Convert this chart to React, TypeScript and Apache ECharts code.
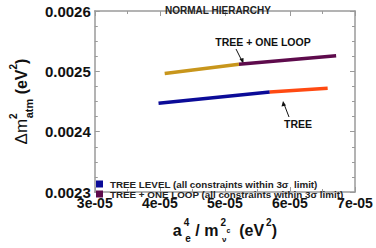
import React, { useEffect, useRef } from "react";
import * as echarts from "echarts";

const treeLevelX = [3.98e-5, 5.69e-5];
const treeLevelY = [0.002447, 0.0024657];
const treeOtherX = [5.69e-5, 6.58e-5];
const treeOtherY = [0.0024657, 0.002472];
const loopGoldX = [4.075e-5, 5.216e-5];
const loopGoldY = [0.0024965, 0.0025118];
const loopPurpleX = [5.216e-5, 6.71e-5];
const loopPurpleY = [0.0025118, 0.0025257];

const legendNames = [
  "TREE LEVEL (all constraints within 3σ  limit)",
  "TREE + ONE LOOP (all constraints within 3σ limit)",
];

const FONT = "Liberation Sans, Arial, Helvetica, sans-serif";

function pts(xs: number[], ys: number[]) {
  return xs.map((x, i) => [x, ys[i]]);
}

function fmtX(v: number) {
  const s = v.toExponential(0);
  const m = s.match(/^(-?\d)e([+-])(\d+)$/);
  if (!m) return s;
  return m[1] + "e" + m[2] + m[3].padStart(2, "0");
}

export default function App() {
  const ref = useRef<HTMLDivElement>(null);
  useEffect(() => {
    if (!ref.current) return;
    const chart = echarts.init(ref.current, undefined, { renderer: "svg" });
    const gray = "#9a9a9a";
    const axisCommon = {
      axisLine: { show: true, lineStyle: { color: gray, width: 1.5 } },
      axisTick: { show: true, inside: true, length: 5, lineStyle: { color: gray } },
      splitLine: { show: false },
    };
    const legendCommon = {
      orient: "vertical",
      left: 96,
      icon: "rect",
      itemWidth: 7,
      itemHeight: 7,
      itemGap: 0,
      padding: 0,
      textStyle: {
        fontFamily: FONT,
        fontSize: 9.8,
        fontWeight: "bold",
        color: "#222",
        lineHeight: 10,
        padding: [0, 0, 0, 2],
      },
    };
    chart.setOption({
      animation: false,
      backgroundColor: "#fff",
      title: {
        text: "NORMAL HIERARCHY",
        left: 213,
        top: 0,
        textAlign: "center",
        textStyle: { fontFamily: FONT, fontSize: 10, fontWeight: "bold", color: "#222" },
      },
      grid: { left: 77, right: 21, top: 11, bottom: 42, containLabel: false },
      legend: [
        { ...legendCommon, data: [legendNames[0]], top: 179 },
        { ...legendCommon, data: [legendNames[1]], top: 189 },
      ],
      xAxis: [
        {
          type: "value",
          min: 3e-5,
          max: 7e-5,
          interval: 1e-5,
          ...axisCommon,
          minorTick: { show: true, splitNumber: 2, length: 3, lineStyle: { color: gray } },
          axisLabel: {
            formatter: (v: number) => fmtX(v),
            fontFamily: FONT,
            fontSize: 14,
            fontWeight: "bold",
            color: "#111",
            margin: 4,
          },
          name: "{b|a}{sup|4}{sub|e}{b| / m}{sup|2}{sub2|ν}{sup2|c}{b|  (eV}{sup|2}{b|)}",
          nameLocation: "middle",
          nameGap: 25,
          nameTextStyle: {
            fontFamily: FONT,
            fontSize: 16,
            fontWeight: "bold",
            color: "#111",
            rich: {
              b: { fontFamily: FONT, fontSize: 16, fontWeight: "bold", color: "#111", lineHeight: 26, verticalAlign: "middle" },
              sup: { fontFamily: FONT, fontSize: 10, fontWeight: "bold", color: "#111", lineHeight: 26, verticalAlign: "top", padding: [0, 0, 0, 2] },
              sub: { fontFamily: FONT, fontSize: 10, fontWeight: "bold", color: "#111", lineHeight: 26, verticalAlign: "bottom", padding: [0, 0, 0, -4] },
              sub2: { fontFamily: FONT, fontSize: 8, color: "#111", lineHeight: 24, verticalAlign: "bottom", padding: [0, 0, 0, -4] },
              sup2: { fontFamily: FONT, fontSize: 7, color: "#111", lineHeight: 26, verticalAlign: "middle" },
            },
          },
        },
        {
          type: "value",
          position: "top",
          min: 3e-5,
          max: 7e-5,
          interval: 1e-5,
          ...axisCommon,
          minorTick: { show: true, splitNumber: 2, length: 3, lineStyle: { color: gray } },
          axisLabel: { show: false },
        },
      ],
      yAxis: [
        {
          type: "value",
          min: 0.0023,
          max: 0.0026,
          interval: 0.0001,
          ...axisCommon,
          minorTick: { show: true, splitNumber: 4, length: 3, lineStyle: { color: gray } },
          axisLabel: {
            formatter: (v: number) => v.toFixed(4),
            fontFamily: FONT,
            fontSize: 15,
            fontWeight: "bold",
            color: "#111",
            margin: 4,
          },
          name: "{r|Δm}{sup|2}{sub|atm}{b| (eV}{sup|2}{b|)}",
          nameLocation: "middle",
          nameGap: 56,
          nameRotate: 90,
          nameTextStyle: {
            fontFamily: FONT,
            fontSize: 16,
            color: "#111",
            rich: {
              r: { fontFamily: FONT, fontSize: 17, color: "#111", lineHeight: 26, verticalAlign: "middle" },
              b: { fontFamily: FONT, fontSize: 16, fontWeight: "bold", color: "#111", lineHeight: 26, verticalAlign: "middle" },
              sup: { fontFamily: FONT, fontSize: 10, fontWeight: "bold", color: "#111", lineHeight: 26, verticalAlign: "top" },
              sub: { fontFamily: FONT, fontSize: 11, fontWeight: "bold", color: "#111", lineHeight: 26, verticalAlign: "bottom", padding: [0, 0, 0, -5] },
            },
          },
        },
        {
          type: "value",
          position: "right",
          min: 0.0023,
          max: 0.0026,
          interval: 0.0001,
          ...axisCommon,
          minorTick: { show: true, splitNumber: 4, length: 3, lineStyle: { color: gray } },
          axisLabel: { show: false },
        },
      ],
      series: [
        {
          name: legendNames[0],
          type: "line",
          data: pts(treeLevelX, treeLevelY),
          showSymbol: false,
          lineStyle: { color: "#0b0b98", width: 3.5 },
          itemStyle: { color: "#0b0b98" },
        },
        {
          name: "tree-other",
          type: "line",
          data: pts(treeOtherX, treeOtherY),
          showSymbol: false,
          lineStyle: { color: "#ff4a12", width: 3.5 },
          itemStyle: { color: "#ff4a12" },
        },
        {
          name: "loop-gold",
          type: "line",
          data: pts(loopGoldX, loopGoldY),
          showSymbol: false,
          lineStyle: { color: "#c8961c", width: 3.5 },
          itemStyle: { color: "#c8961c" },
        },
        {
          name: legendNames[1],
          type: "line",
          data: pts(loopPurpleX, loopPurpleY),
          showSymbol: false,
          lineStyle: { color: "#5e0b4c", width: 3.5 },
          itemStyle: { color: "#5e0b4c" },
        },
      ],
      graphic: [
        {
          type: "text",
          x: 263,
          y: 42,
          style: {
            text: "TREE + ONE LOOP",
            fontFamily: FONT,
            fontSize: 10.5,
            fontWeight: "bold",
            fill: "#111",
            align: "center",
            verticalAlign: "middle",
          },
        },
        {
          type: "line",
          shape: { x1: 236, y1: 49, x2: 242, y2: 61 },
          style: { stroke: "#111", lineWidth: 1 },
        },
        {
          type: "polygon",
          shape: { points: [[243.5, 64], [239.5, 59], [243.5, 58]] },
          style: { fill: "#111" },
        },
        {
          type: "text",
          x: 298,
          y: 124,
          style: {
            text: "TREE",
            fontFamily: FONT,
            fontSize: 10.5,
            fontWeight: "bold",
            fill: "#111",
            align: "center",
            verticalAlign: "middle",
          },
        },
        {
          type: "line",
          shape: { x1: 289, y1: 117, x2: 284, y2: 104 },
          style: { stroke: "#111", lineWidth: 1 },
        },
        {
          type: "polygon",
          shape: { points: [[283, 101], [281.5, 106.5], [286, 105.5]] },
          style: { fill: "#111" },
        },
      ],
    });
    return () => chart.dispose();
  }, []);
  return (
    <div
      ref={ref}
      style={{ position: "fixed", left: 0, top: 0, width: 376, height: 248, background: "#fff" }}
    />
  );
}
